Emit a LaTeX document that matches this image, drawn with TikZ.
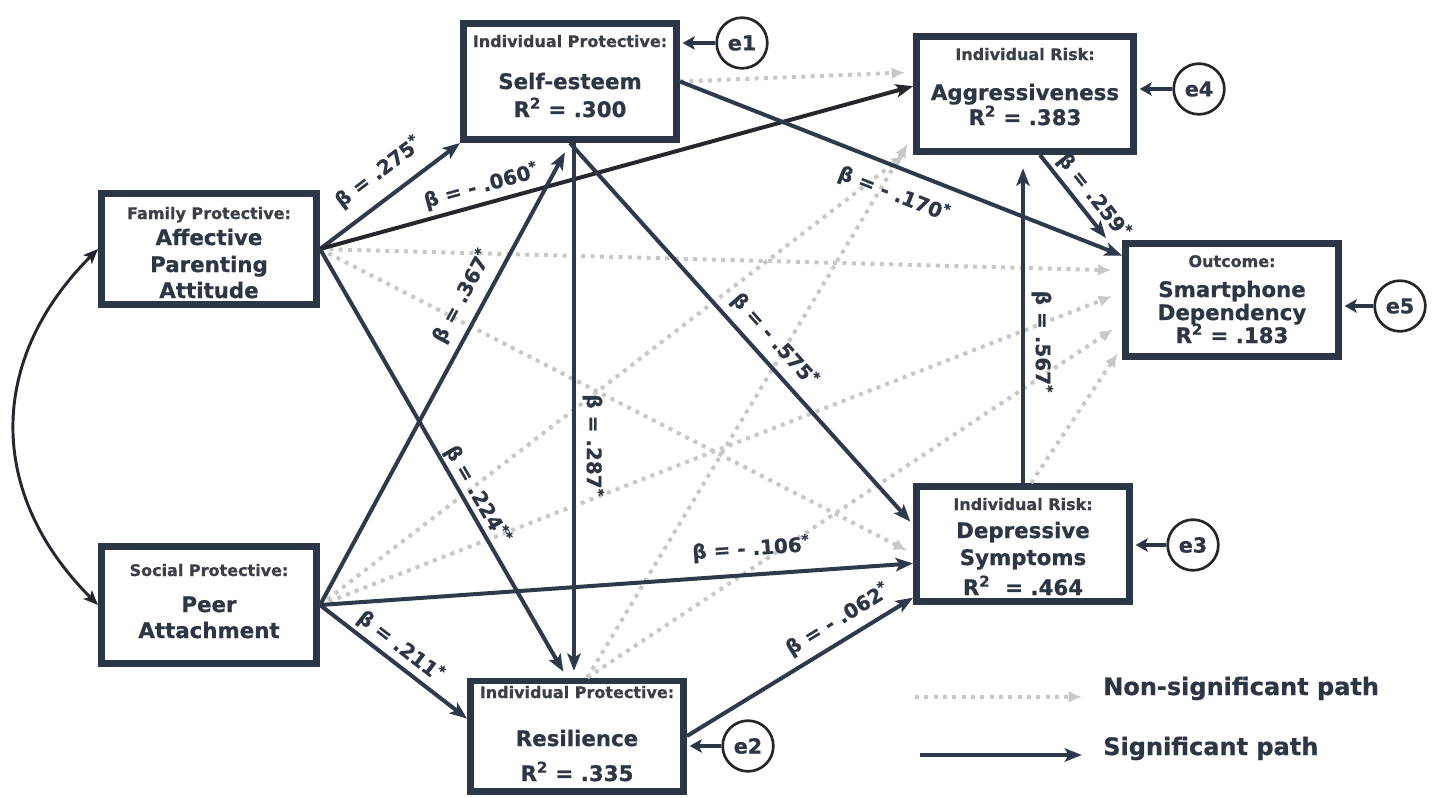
\documentclass[tikz,border=0pt]{standalone}
\usepackage{fontspec}
\setmainfont{DejaVu Sans}[BoldFeatures={FakeBold=0.7}]
\usetikzlibrary{arrows.meta,calc}
\definecolor{boxc}{HTML}{2B3646}
\definecolor{txtc}{HTML}{2D3644}
\definecolor{hdrc}{HTML}{3A3F48}
\definecolor{linec}{HTML}{2E3A4C}
\definecolor{darkc}{HTML}{25272C}
\definecolor{nsc}{HTML}{C8C8C8}
\newcommand\Hfont{\fontsize{12}{14}\selectfont\bfseries}
\newcommand\Bfont{\fontsize{16}{20}\selectfont\bfseries}
\newcommand\Lfont{\fontsize{15}{18}\selectfont\bfseries}
\newcommand\Gfont{\fontsize{18}{21}\selectfont\bfseries}
\newcommand\sigst{\textsuperscript{*}}
\begin{document}
\begin{tikzpicture}[x=0.75pt,y=-0.75pt,
  box/.style={draw=boxc, line width=5pt, fill=white, inner sep=0pt},
  hdr/.style={anchor=base, font=\Hfont, text=hdrc, inner sep=0pt},
  big/.style={anchor=base, font=\Bfont, text=txtc, inner sep=0pt},
  sig/.style={draw=linec, line width=3pt, -{Stealth[length=13pt,width=10pt,inset=3pt]}},
  ns/.style={draw=nsc, line width=3pt, dash pattern=on 3pt off 4pt, -{Latex[length=10pt,width=9pt]}},
  lab/.style={sloped, font=\Lfont, text=txtc, inner sep=1pt},
  ecirc/.style={circle, draw=black!85, line width=2pt, minimum size=38pt, font=\fontsize{15.5}{18}\selectfont\bfseries, text=txtc, inner sep=0pt},
  earr/.style={draw=boxc, line width=3.5pt, -{Stealth[length=9pt,width=10pt,inset=2pt]}, shorten >=2pt},
  leg/.style={font=\Gfont, text=txtc, inner sep=0pt}
]
\useasboundingbox (0,0) rectangle (1438,797);
\fill[white] (0,0) rectangle (1438,797);

% boxes
\node[box, minimum width=161.5pt, minimum height=83.5pt] (F) at (209,249) {};
\node[hdr] (Fh) at (209,219) {Family Protective:};
\node[big] (F1) at (209,245) {Affective};
\node[big] (F2) at (209,272) {Parenting};
\node[big] (F3) at (209,298) {Attitude};

\node[box, minimum width=161.5pt, minimum height=88pt] (P) at (209,605) {};
\node[hdr] (Ph) at (209,576) {Social Protective:};
\node[big] (P1) at (209,612) {Peer};
\node[big] (P2) at (209,638) {Attachment};

\node[box, minimum width=160pt, minimum height=87.25pt] (S) at (570,81.5) {};
\node[hdr] (Sh) at (570,47) {Individual Protective:};
\node[big] (S1) at (570,89) {Self-esteem};
\node[big] (S2) at (570,117) {R\textsuperscript{2} = .300};

\node[box, minimum width=160pt, minimum height=82.75pt] (R) at (577,736) {};
\node[hdr] (Rh) at (577,698) {Individual Protective:};
\node[big] (R1) at (577,746) {Resilience};
\node[big] (R2) at (577,781) {R\textsuperscript{2} = .335};

\node[box, minimum width=163pt, minimum height=86.5pt] (A) at (1025,94) {};
\node[hdr] (Ah) at (1025,60) {Individual Risk:};
\node[big] (A1) at (1025,100) {Aggressiveness};
\node[big] (A2) at (1025,125) {R\textsuperscript{2} = .383};

\node[box, minimum width=160pt, minimum height=86.5pt] (D) at (1023,544) {};
\node[hdr] (Dh) at (1023,510) {Individual Risk:};
\node[big] (D1) at (1023,538) {Depressive};
\node[big] (D2) at (1023,565) {Symptoms};
\node[big] (D3) at (1023,595) {R\textsuperscript{2}\ \ = .464};

\node[box, minimum width=160pt, minimum height=85pt] (O) at (1232,300) {};
\node[hdr] (Oh) at (1232,267) {Outcome:};
\node[big] (O1) at (1232,297) {Smartphone};
\node[big] (O2) at (1232,320) {Dependency};
\node[big] (O3) at (1232,343) {R\textsuperscript{2} = .183};

% error terms
\node[ecirc] (e1) at (742,43) {e1};
\node[ecirc] (e4) at (1199,89) {e4};
\node[ecirc] (e5) at (1400,306) {e5};
\node[ecirc] (e3) at (1193,545) {e3};
\node[ecirc] (e2) at (748,746) {e2};
\draw[earr] (e1) -- (e1 -| S.east);
\draw[earr] (e4) -- (e4 -| A.east);
\draw[earr] (e5) -- (e5 -| O.east);
\draw[earr] (e3) -- (e3 -| D.east);
\draw[earr] (e2) -- (e2 -| R.east);

% non-significant paths
\coordinate (Dtop) at ($(D.north)+(8,0)$);
\draw[ns, shorten >=6pt] (S.east) -- (A.169);
\draw[ns, shorten >=8pt] (F.east) -- (O.165);
\draw[ns, shorten >=5pt] (F.east) -- (D.185);
\draw[ns, shorten >=8pt] (P.east) -- (A.206);
\draw[ns, shorten >=8pt] (P.east) -- (O.176);
\draw[ns, shorten >=8pt] (R.80) -- (A.200);
\draw[ns, shorten >=8pt] (R.80) -- (O.192);
\draw[ns, shorten >=6pt] (Dtop) -- (O.203);

% correlation
\draw[draw=darkc, line width=2.2pt, {Stealth[length=11pt,width=9pt,inset=2.5pt]}-{Stealth[length=11pt,width=9pt,inset=2.5pt]}]
  (F.west) .. controls (-13,360) and (-13,494) .. (P.west);

% significant paths
\coordinate (srs) at ($(S.south)+(4,0)$);
\coordinate (aos) at ($(A.south)+(15,0)$);
\coordinate (aoe) at ($(O.north west)+(-16,-2)$);
\draw[sig] (F.east) -- node[lab, above=9pt, pos=0.53] (l1) {β = .275\sigst} (S.south west);
\draw[sig, draw=darkc] (F.east) -- node[lab, above=3pt, pos=0.28] (l2) {β = - .060\sigst} (A.176);
\draw[sig, shorten >=5pt] (F.east) -- node[lab, above=0pt, pos=0.59] (l3) {β = .224\textsuperscript{**}} (R.100);
\draw[sig, shorten >=8pt] (P.east) -- node[lab, above=6pt, pos=0.646] (l4) {β = .367\sigst} (S.south);
\draw[sig] (P.east) -- node[lab, above=9pt, pos=0.73] (l5) {β = - .106\sigst} (D.190);
\draw[sig] (P.east) -- node[lab, above=2pt, pos=0.48] (l6) {β = .211\sigst} (R.171);
\draw[sig, shorten >=5pt] (srs) -- node[lab, above=4pt, pos=0.566] (l7) {β = .287\sigst} (srs |- R.north);
\draw[sig, shorten >=3pt] (S.south) -- node[lab, above=5pt, pos=0.552] (l8) {β = - .575\sigst} (D.170);
\draw[sig] (S.east) -- node[lab, below=9pt, pos=0.506] (l9) {β = - .170\sigst} (O.158);
\draw[sig, shorten >=10pt] (D.north) -- node[rotate=-90, anchor=south, font=\Lfont, text=txtc, inner sep=5pt, pos=0.43] (l10) {β = .567\sigst} (D.north |- A.south);
\draw[sig] (aos) -- node[lab, above=2pt, pos=0.62] (l11) {β = .259\sigst} (aoe);
\draw[sig] (R.east) -- node[lab, above=5pt, pos=0.715] (l12) {β = - .062\sigst} (D.206);

% legend
\coordinate (n1) at (915,697);
\coordinate (n2) at (1082,697);
\coordinate (s1) at (920,755);
\coordinate (s2) at (1082,755);
\draw[ns] (n1) -- (n2);
\draw[sig] (s1) -- (s2);
\node[leg, anchor=base west] (ln) at (1103,695) {Non-significant path};
\node[leg, anchor=base west] (ls) at (1103,755) {Significant path};
\end{tikzpicture}
\end{document}
